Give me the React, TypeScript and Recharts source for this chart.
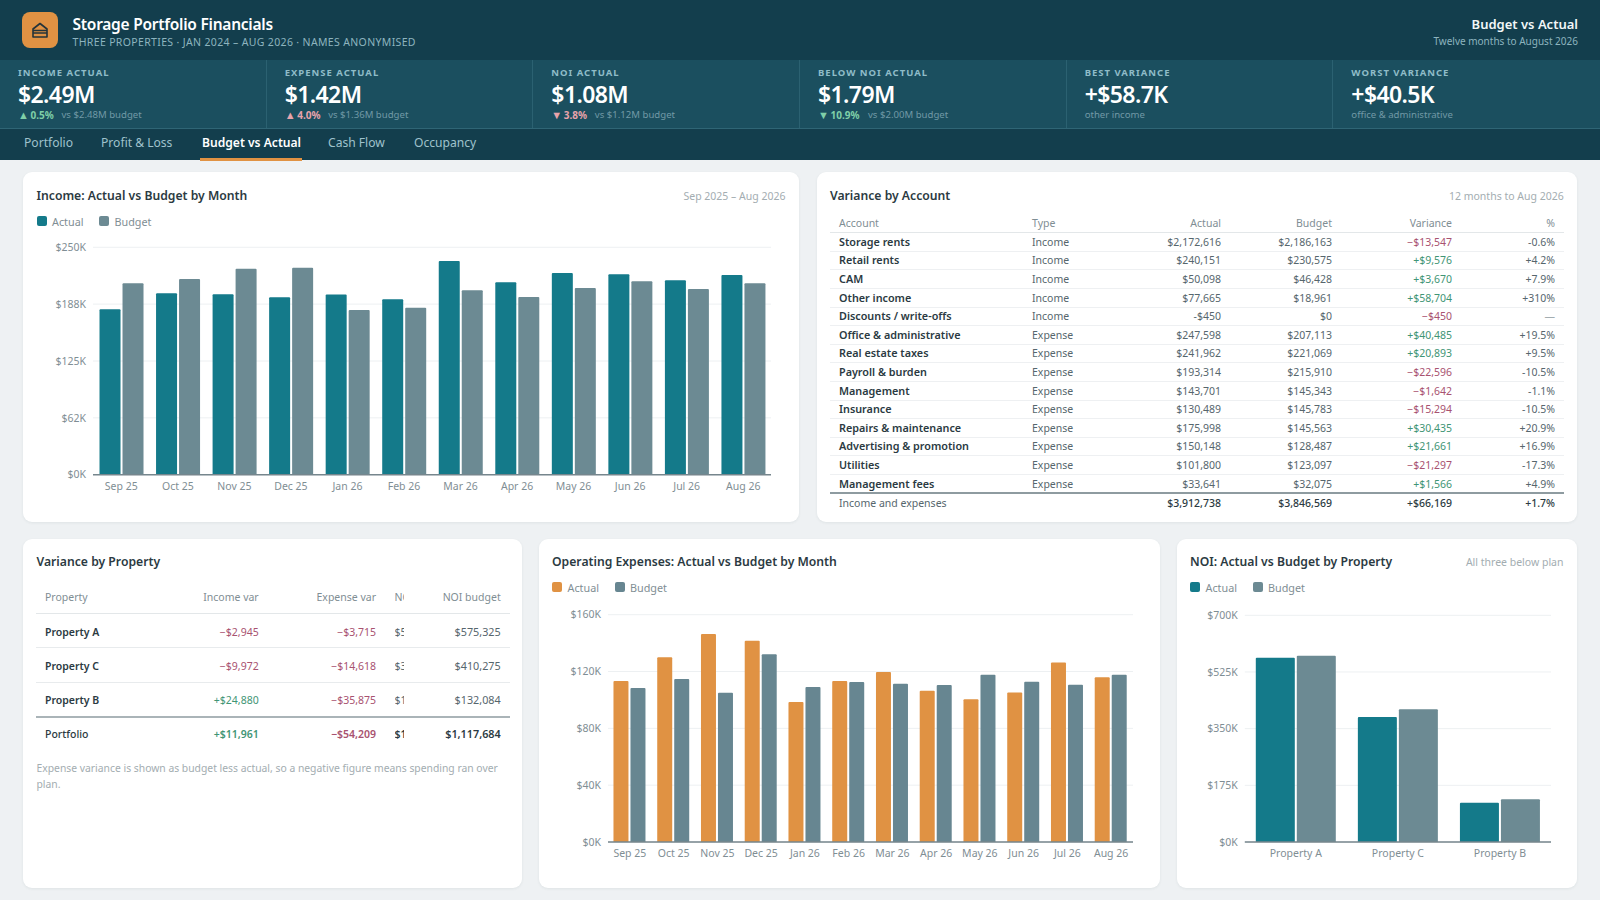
import React from 'react';
import { BarChart, Bar, XAxis, YAxis, CartesianGrid, Legend } from 'recharts';

const FONT = '"Noto Sans", sans-serif';
const TEAL = '#147a8a';
const SLATE = '#6c8a93';
const ORANGE = '#e09243';
const GREEN = '#3f9575';
const RED = '#a85270';
const INK = '#2b3a42';
const BODY = '#56666d';
const MUTED = '#7f8e94';
const FAINT = '#a3adb1';

// KPI strip
const kpiLabels = ['INCOME ACTUAL', 'EXPENSE ACTUAL', 'NOI ACTUAL', 'BELOW NOI ACTUAL', 'BEST VARIANCE', 'WORST VARIANCE'];
const kpiValues = ['$2.49M', '$1.42M', '$1.08M', '$1.79M', '+$58.7K', '+$40.5K'];
const kpiArrows = ['▲', '▲', '▼', '▼', '', ''];
const kpiDeltas = ['0.5%', '4.0%', '3.8%', '10.9%', '', ''];
const kpiDeltaGood = [true, false, false, true, true, true];
const kpiNotes = ['vs $2.48M budget', 'vs $1.36M budget', 'vs $1.12M budget', 'vs $2.00M budget', 'other income', 'office & administrative'];

const tabs = ['Portfolio', 'Profit & Loss', 'Budget vs Actual', 'Cash Flow', 'Occupancy'];
const tabLefts = [24, 101, 202, 328, 414];

// Monthly charts
const months = ['Sep 25', 'Oct 25', 'Nov 25', 'Dec 25', 'Jan 26', 'Feb 26', 'Mar 26', 'Apr 26', 'May 26', 'Jun 26', 'Jul 26', 'Aug 26'];
const incomeActual = [181800, 199400, 198300, 195000, 198000, 193000, 235000, 211500, 221800, 220300, 213700, 219600];
const incomeBudget = [210400, 215200, 226500, 227600, 181000, 183600, 202700, 195400, 205300, 212600, 204200, 210400];
const incomeTicks = [0, 62500, 125000, 187500, 250000];
const incomeTickLabels = ['$0K', '$62K', '$125K', '$188K', '$250K'];

const expenseActual = [113300, 130000, 146400, 141700, 98500, 113300, 119600, 106500, 100400, 105300, 126400, 115900];
const expenseBudget = [108400, 114700, 105100, 132100, 109100, 112600, 111400, 110500, 117800, 112800, 110700, 117800];
const expenseTicks = [0, 40000, 80000, 120000, 160000];
const expenseTickLabels = ['$0K', '$40K', '$80K', '$120K', '$160K'];

const properties = ['Property A', 'Property C', 'Property B'];
const noiActual = [568665, 385685, 121089];
const noiBudget = [575325, 410275, 132084];
const noiTicks = [0, 175000, 350000, 525000, 700000];
const noiTickLabels = ['$0K', '$175K', '$350K', '$525K', '$700K'];

// Variance by account
const accountHeaders = ['Account', 'Type', 'Actual', 'Budget', 'Variance', '%'];
const accounts = ['Storage rents', 'Retail rents', 'CAM', 'Other income', 'Discounts / write-offs', 'Office & administrative', 'Real estate taxes', 'Payroll & burden', 'Management', 'Insurance', 'Repairs & maintenance', 'Advertising & promotion', 'Utilities', 'Management fees'];
const accountTypes = ['Income', 'Income', 'Income', 'Income', 'Income', 'Expense', 'Expense', 'Expense', 'Expense', 'Expense', 'Expense', 'Expense', 'Expense', 'Expense'];
const accountActual = ['$2,172,616', '$240,151', '$50,098', '$77,665', '-$450', '$247,598', '$241,962', '$193,314', '$143,701', '$130,489', '$175,998', '$150,148', '$101,800', '$33,641'];
const accountBudget = ['$2,186,163', '$230,575', '$46,428', '$18,961', '$0', '$207,113', '$221,069', '$215,910', '$145,343', '$145,783', '$145,563', '$128,487', '$123,097', '$32,075'];
const accountVariance = ['−$13,547', '+$9,576', '+$3,670', '+$58,704', '−$450', '+$40,485', '+$20,893', '−$22,596', '−$1,642', '−$15,294', '+$30,435', '+$21,661', '−$21,297', '+$1,566'];
const accountPct = ['-0.6%', '+4.2%', '+7.9%', '+310%', '—', '+19.5%', '+9.5%', '-10.5%', '-1.1%', '-10.5%', '+20.9%', '+16.9%', '-17.3%', '+4.9%'];
const accountTotal = ['Income and expenses', '', '$3,912,738', '$3,846,569', '+$66,169', '+1.7%'];

// Variance by property
const propertyHeaders = ['Property', 'Income var', 'Expense var', 'NOI actual', 'NOI budget'];
const propertyRows = ['Property A', 'Property C', 'Property B', 'Portfolio'];
const propertyIncomeVar = ['−$2,945', '−$9,972', '+$24,880', '+$11,961'];
const propertyExpenseVar = ['−$3,715', '−$14,618', '−$35,875', '−$54,209'];
const propertyNoiActual = ['$568,665', '$385,685', '$121,089', '$1,075,436'];
const propertyNoiBudget = ['$575,325', '$410,275', '$132,084', '$1,117,684'];

const zip = (names: string[], actual: number[], budget: number[]) =>
  names.map((name, i) => ({ name, actual: actual[i], budget: budget[i] }));

interface TextProps {
  x?: number;
  right?: number;
  cy: number;
  size: number;
  weight?: number;
  color: string;
  spacing?: number;
  children: React.ReactNode;
}

// one line of text, placed by its vertical centre
function T({ x, right, cy, size, weight = 400, color, spacing = 0, children }: TextProps) {
  const style: React.CSSProperties = {
    position: 'absolute',
    top: cy - 10,
    height: 20,
    lineHeight: '20px',
    fontSize: size,
    fontWeight: weight,
    color,
    letterSpacing: spacing,
    whiteSpace: 'nowrap',
  };
  if (right !== undefined) {
    style.left = right - 400;
    style.width = 400;
    style.textAlign = 'right';
  } else {
    style.left = x;
  }
  return <div style={style}>{children}</div>;
}

function Card({ x, y, w, h }: { x: number; y: number; w: number; h: number }) {
  return (
    <div
      style={{
        position: 'absolute',
        left: x,
        top: y,
        width: w,
        height: h,
        background: '#fff',
        borderRadius: 9,
        boxShadow: '0 1px 3px rgba(30,50,60,0.07)',
      }}
    />
  );
}

function Rule({ x, y, w, color, h = 1 }: { x: number; y: number; w: number; color: string; h?: number }) {
  return <div style={{ position: 'absolute', left: x, top: y, width: w, height: h, background: color }} />;
}

function SwatchLegend({ payload }: any) {
  return (
    <div style={{ display: 'flex', gap: 15.5, height: 24, alignItems: 'center', fontFamily: FONT, fontSize: 10.8, color: MUTED }}>
      {(payload || []).map((p: any) => (
        <div key={p.value} style={{ display: 'flex', alignItems: 'center', gap: 5.5 }}>
          <span style={{ width: 10, height: 10, borderRadius: 2, background: p.color, display: 'inline-block' }} />
          {p.value}
        </div>
      ))}
    </div>
  );
}

interface ChartProps {
  x: number;
  top: number;
  plotLeft: number;
  plotRight: number;
  plotTop: number;
  plotBottom: number;
  data: { name: string; actual: number; budget: number }[];
  ticks: number[];
  tickLabels: string[];
  actualColor: string;
  budgetColor: string;
  gap: string;
  barSize?: number;
}

function ActualBudgetChart({ x, top, plotLeft, plotRight, plotTop, plotBottom, data, ticks, tickLabels, actualColor, budgetColor, gap, barSize }: ChartProps) {
  const tickStyle = { fontSize: 10.5, fill: MUTED, fontFamily: FONT };
  return (
    <div style={{ position: 'absolute', left: x, top }}>
      <BarChart
        width={plotRight - x}
        height={plotBottom - top + 36}
        data={data}
        margin={{ top: 0, right: 0, bottom: 6, left: 0 }}
        barCategoryGap={gap}
        barGap={2}
        barSize={barSize}
      >
        <CartesianGrid vertical={false} stroke="#edf0f2" />
        <XAxis
          dataKey="name"
          height={30}
          tick={tickStyle}
          tickLine={false}
          axisLine={{ stroke: '#76868d', strokeWidth: 1.5 }}
          interval={0}
          tickMargin={2}
        />
        <YAxis
          width={plotLeft - x}
          domain={[ticks[0], ticks[ticks.length - 1]]}
          ticks={ticks}
          interval={0}
          tick={tickStyle}
          tickLine={false}
          axisLine={false}
          tickMargin={1}
          tickFormatter={(_v: number, i: number) => tickLabels[i]}
        />
        <Legend
          verticalAlign="top"
          align="left"
          height={plotTop - top}
          wrapperStyle={{ left: 0, top: 0 }}
          content={SwatchLegend}
        />
        <Bar dataKey="actual" name="Actual" fill={actualColor} radius={[1, 1, 0, 0]} isAnimationActive={false} />
        <Bar dataKey="budget" name="Budget" fill={budgetColor} radius={[1, 1, 0, 0]} isAnimationActive={false} />
      </BarChart>
    </div>
  );
}

const varColor = (s: string) => (s.startsWith('+') ? GREEN : RED);

export default function App() {
  const kpiW = 1600 / 6;
  return (
    <div style={{ position: 'absolute', left: 0, top: 0, width: 1600, height: 900, background: '#eef1f3', fontFamily: FONT, overflow: 'hidden' }}>
      {/* header */}
      <div style={{ position: 'absolute', left: 0, top: 0, width: 1600, height: 160, background: '#133e4d' }} />
      <div style={{ position: 'absolute', left: 22, top: 12, width: 36, height: 36, borderRadius: 8, background: ORANGE }}>
        <svg width={36} height={36} viewBox="0 0 36 36" fill="none" stroke="#24343a" strokeWidth={1.6}>
          <path d="M11 17 L18 11.5 L25 17 V25 H11 Z" strokeLinejoin="round" />
          <path d="M11 18.5 H25 M11 21 H25" />
        </svg>
      </div>
      <T x={72.5} cy={24} size={15.5} weight={600} color="#ffffff" spacing={-0.25}>Storage Portfolio Financials</T>
      <T x={72.5} cy={42} size={10.5} color="#8db4bf" spacing={0.35}>THREE PROPERTIES · JAN 2024 – AUG 2026 · NAMES ANONYMISED</T>
      <T right={1578} cy={24} size={13} weight={600} color="#f2f7f8">Budget vs Actual</T>
      <T right={1578} cy={41} size={10} color="#8db4bf">Twelve months to August 2026</T>

      {/* KPI strip */}
      <div style={{ position: 'absolute', left: 0, top: 60, width: 1600, height: 69, background: '#1b4f5f', borderBottom: '1px solid #2f6575', boxSizing: 'border-box' }} />
      {kpiLabels.map((label, i) => {
        const x = 18 + i * kpiW;
        return (
          <React.Fragment key={label}>
            {i > 0 && <Rule x={i * kpiW - 1} y={60} w={1} h={68} color="#2b6171" />}
            <T x={x} cy={73} size={9.5} weight={700} color="#8fbcc8" spacing={1}>{label}</T>
            <T x={x} cy={94} size={23} weight={600} color="#ffffff" spacing={-0.6}>{kpiValues[i]}</T>
            {kpiDeltas[i] ? (
              <>
                <T x={x} cy={115} size={11} color={kpiDeltaGood[i] ? '#7fcfa8' : '#e8a3ab'}>{kpiArrows[i]}</T>
                <T x={x + 12.5} cy={115} size={10} weight={700} color={kpiDeltaGood[i] ? '#7fcfa8' : '#e8a3ab'}>{kpiDeltas[i]}</T>
                <T x={x + (kpiDeltas[i].length > 4 ? 50 : 43.5)} cy={115} size={9.6} color="#7199a6">{kpiNotes[i]}</T>
              </>
            ) : (
              <T x={x} cy={115} size={9.6} color="#7199a6">{kpiNotes[i]}</T>
            )}
          </React.Fragment>
        );
      })}

      {/* tabs */}
      {tabs.map((tab, i) => (
        <T key={tab} x={tabLefts[i]} cy={142.5} size={12.1} weight={i === 2 ? 600 : 400} color={i === 2 ? '#ffffff' : '#9fc2cc'}>{tab}</T>
      ))}
      <Rule x={200} y={158} w={102} h={2.5} color={ORANGE} />

      {/* cards */}
      <Card x={23} y={172} w={776} h={350} />
      <Card x={817} y={172} w={760} h={350} />
      <Card x={23} y={539} w={499} h={349} />
      <Card x={539} y={539} w={620.5} h={349} />
      <Card x={1177} y={539} w={400} h={349} />

      {/* income chart */}
      <T x={36.5} cy={195.5} size={12.2} weight={600} color={INK}>Income: Actual vs Budget by Month</T>
      <T right={785.5} cy={196} size={10.5} color={FAINT}>Sep 2025 – Aug 2026</T>
      <ActualBudgetChart
        x={36.5}
        top={209}
        plotLeft={92.5}
        plotRight={771}
        plotTop={247.3}
        plotBottom={474.7}
        data={zip(months, incomeActual, incomeBudget)}
        ticks={incomeTicks}
        tickLabels={incomeTickLabels}
        actualColor={TEAL}
        budgetColor={SLATE}
        gap="11.5%"
      />

      {/* variance by account */}
      <T x={830} cy={195.5} size={12.2} weight={600} color={INK}>Variance by Account</T>
      <T right={1563.7} cy={196} size={10.5} color={FAINT}>12 months to Aug 2026</T>
      <AccountTable />

      {/* variance by property */}
      <T x={36.5} cy={561.5} size={12.2} weight={600} color={INK}>Variance by Property</T>
      <PropertyTable />
      <T x={36.5} cy={767.5} size={10.35} color={FAINT}>Expense variance is shown as budget less actual, so a negative figure means spending ran over</T>
      <T x={36.5} cy={783.5} size={10.35} color={FAINT}>plan.</T>

      {/* opex chart */}
      <T x={552} cy={561.5} size={12.2} weight={600} color={INK}>Operating Expenses: Actual vs Budget by Month</T>
      <ActualBudgetChart
        x={552}
        top={575}
        plotLeft={608}
        plotRight={1133}
        plotTop={614.7}
        plotBottom={842}
        data={zip(months, expenseActual, expenseBudget)}
        ticks={expenseTicks}
        tickLabels={expenseTickLabels}
        actualColor={ORANGE}
        budgetColor="#678691"
        gap="12.5%"
      />

      {/* NOI chart */}
      <T x={1190} cy={561.5} size={12.2} weight={600} color={INK}>NOI: Actual vs Budget by Property</T>
      <T right={1563.5} cy={562} size={10.5} color={FAINT}>All three below plan</T>
      <ActualBudgetChart
        x={1190}
        top={575}
        plotLeft={1244.8}
        plotRight={1551}
        plotTop={615.3}
        plotBottom={842}
        data={zip(properties, noiActual, noiBudget)}
        ticks={noiTicks}
        tickLabels={noiTickLabels}
        actualColor={TEAL}
        budgetColor={SLATE}
        gap="9.5%"
        barSize={39}
      />
    </div>
  );
}

function AccountTable() {
  const pitch = 18.6;
  const rowY = (i: number) => 241.8 + i * pitch;
  const size = 10.5;
  const left = 830;
  const width = 734;
  return (
    <>
      <T x={839} cy={222.5} size={size} color={MUTED}>{accountHeaders[0]}</T>
      <T x={1032} cy={222.5} size={size} color={MUTED}>{accountHeaders[1]}</T>
      <T right={1221} cy={222.5} size={size} color={MUTED}>{accountHeaders[2]}</T>
      <T right={1332} cy={222.5} size={size} color={MUTED}>{accountHeaders[3]}</T>
      <T right={1452} cy={222.5} size={size} color={MUTED}>{accountHeaders[4]}</T>
      <T right={1555} cy={222.5} size={size} color={MUTED}>{accountHeaders[5]}</T>
      <Rule x={left} y={232} w={width} color="#e3e7e9" />
      {accounts.map((name, i) => (
        <React.Fragment key={name}>
          <T x={839} cy={rowY(i)} size={10.8} weight={600} color={INK}>{name}</T>
          <T x={1032} cy={rowY(i)} size={size} color={BODY}>{accountTypes[i]}</T>
          <T right={1221} cy={rowY(i)} size={size} color={BODY}>{accountActual[i]}</T>
          <T right={1332} cy={rowY(i)} size={size} color={BODY}>{accountBudget[i]}</T>
          <T right={1452} cy={rowY(i)} size={size} color={varColor(accountVariance[i])}>{accountVariance[i]}</T>
          <T right={1555} cy={rowY(i)} size={size} color={accountPct[i] === '—' ? FAINT : BODY}>{accountPct[i]}</T>
          {i < accounts.length - 1 && <Rule x={left} y={rowY(i) + 9} w={width} color="#eef0f2" />}
        </React.Fragment>
      ))}
      <Rule x={left} y={492} w={width} h={1.5} color="#8e9ba0" />
      <T x={839} cy={503} size={size} color={BODY}>{accountTotal[0]}</T>
      <T right={1221} cy={503} size={size} weight={500} color={INK}>{accountTotal[2]}</T>
      <T right={1332} cy={503} size={size} weight={500} color={INK}>{accountTotal[3]}</T>
      <T right={1452} cy={503} size={size} weight={500} color={INK}>{accountTotal[4]}</T>
      <T right={1555} cy={503} size={size} weight={500} color={INK}>{accountTotal[5]}</T>
    </>
  );
}

function PropertyTable() {
  const rowYs = [632, 666, 700, 734];
  const size = 10.5;
  // the NOI actual column is squeezed to a sliver, as in the original table
  const clip: React.CSSProperties = { position: 'absolute', left: 394.5, width: 9, height: 20, overflow: 'hidden' };
  return (
    <>
      <T x={45} cy={597} size={size} color={MUTED}>{propertyHeaders[0]}</T>
      <T right={258.7} cy={597} size={size} color={MUTED}>{propertyHeaders[1]}</T>
      <T right={376} cy={597} size={size} color={MUTED}>{propertyHeaders[2]}</T>
      <div style={{ ...clip, top: 587 }}>
        <T x={0} cy={10} size={size} color={MUTED}>{propertyHeaders[3]}</T>
      </div>
      <T right={500.7} cy={597} size={size} color={MUTED}>{propertyHeaders[4]}</T>
      <Rule x={36} y={613} w={474} color="#e3e7e9" />
      {propertyRows.map((name, i) => {
        const total = i === propertyRows.length - 1;
        const w = total ? 600 : 400;
        return (
          <React.Fragment key={name}>
            <T x={45} cy={rowYs[i]} size={size} weight={total ? 500 : 600} color={INK}>{name}</T>
            <T right={258.7} cy={rowYs[i]} size={size} weight={w} color={varColor(propertyIncomeVar[i])}>{propertyIncomeVar[i]}</T>
            <T right={376} cy={rowYs[i]} size={size} weight={w} color={varColor(propertyExpenseVar[i])}>{propertyExpenseVar[i]}</T>
            <div style={{ ...clip, top: rowYs[i] - 10 }}>
              <T x={0} cy={10} size={size} weight={w} color={total ? INK : BODY}>{propertyNoiActual[i]}</T>
            </div>
            <T right={500.7} cy={rowYs[i]} size={10.8} weight={w} color={total ? INK : BODY}>{propertyNoiBudget[i]}</T>
            {i === 0 && <Rule x={36} y={647} w={474} color="#e8ebed" />}
            {i === 1 && <Rule x={36} y={682} w={474} color="#e8ebed" />}
            {i === 2 && <Rule x={36} y={715.5} w={474} h={2} color="#aab4b8" />}
          </React.Fragment>
        );
      })}
    </>
  );
}
